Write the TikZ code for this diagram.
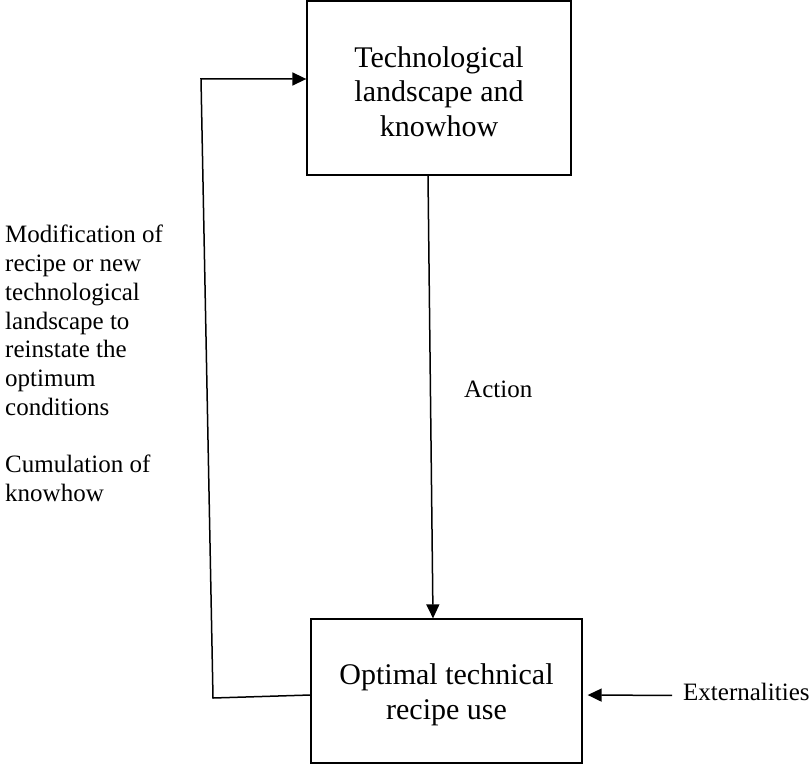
\documentclass[tikz,border=0pt]{standalone}
\usepackage{fontspec}
\setmainfont{Liberation Serif}
\usetikzlibrary{arrows.meta,calc}

\begin{document}
\begin{tikzpicture}[x=1pt,y=-1pt,
  box/.style={draw, line width=1.3pt, rectangle, inner sep=0pt},
  boxtext/.style={align=center, inner sep=0pt, font=\fontsize{30}{34.5}\selectfont},
  note/.style={inner sep=0pt, font=\fontsize{25}{28.75}\selectfont},
  link/.style={line width=1.5pt, -{Triangle[length=14pt,width=13pt]}}]
  \useasboundingbox (0,0) rectangle (810,765);

  % the two stages of the cycle
  \node[box, minimum width=264pt, minimum height=174pt] (land) at (439,88) {};
  \node[boxtext] (landtxt) at ($(land.center)+(0,3.5)$)
    {Technological\\landscape and\\knowhow};
  \node[box, minimum width=271pt, minimum height=144pt] (use) at (446.5,691) {};
  \node[boxtext] (usetxt) at ($(use.center)+(0,4)$)
    {Optimal technical\\recipe use};

  % labels
  \node[note, anchor=base west] (act) at (464,397) {Action};
  \node[note, anchor=base west] (ext) at (683,700) {Externalities};
  \node[note, anchor=north west, align=left] (mod) at (5,225)
    {Modification of\\recipe or new\\technological\\landscape to\\reinstate the\\optimum\\conditions};
  \node[note, anchor=north west, align=left] (cum) at (5,455)
    {Cumulation of\\knowhow};

  % bends of the feedback loop
  \coordinate (fbl) at (213,698);
  \coordinate (ftl) at (201,79);

  % action: landscape -> recipe use
  \draw[link] ($(land.south)+(-11,0)$) -- ($(use.north)+(-13.5,0)$);
  % feedback loop back to the landscape
  \draw[link] ($(use.west)+(0,4)$) -- (fbl) -- (ftl) -- ($(land.west)+(0,-9)$);
  % externalities acting on the recipe use
  \draw[link] ($(ext.west)+(-11,4)$) -- ($(use.east)+(5,4)$);
\end{tikzpicture}
\end{document}
